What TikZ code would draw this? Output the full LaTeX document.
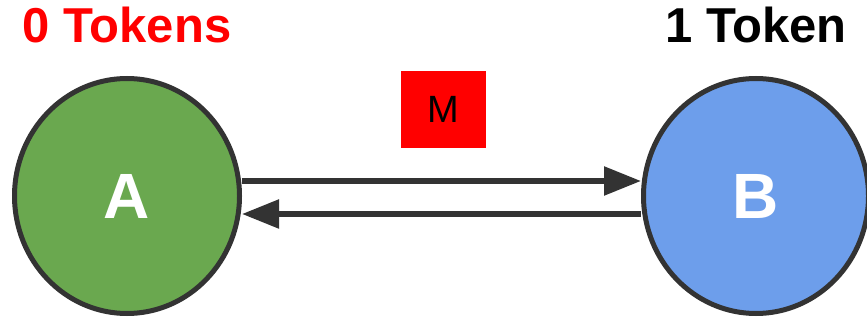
\documentclass[tikz,border=0pt]{standalone}
\usepackage{fontspec}
\setmainfont{Liberation Sans}
\usepackage{xcolor}
\usetikzlibrary{arrows.meta,positioning,shapes.geometric}
\definecolor{stroke}{HTML}{333333}
\definecolor{nodegreen}{HTML}{6AA84F}
\definecolor{nodeblue}{HTML}{6D9EEB}
\definecolor{msgred}{HTML}{FF0000}

\begin{document}
\begin{tikzpicture}[x=1pt, y=1pt,
  state/.style={ellipse, draw=stroke, line width=5pt, minimum width=225pt, minimum height=235pt, inner sep=0pt, text=white, font=\fontsize{64}{64}\selectfont\bfseries},
  title/.style={anchor=base, inner sep=0pt, font=\fontsize{49}{49}\selectfont\bfseries},
  msg/.style={fill=msgred, minimum width=85pt, minimum height=77pt, inner sep=0pt, font=\fontsize{38}{38}\selectfont},
  link/.style={draw=stroke, line width=5.5pt, -{Triangle[length=37pt,width=28pt]}}]
\useasboundingbox (0,0) rectangle (867,321);

% Processes
\node[state, fill=nodegreen] (A) at (127,125) {A};
\node[state, fill=nodeblue] (B) at (756,125) {B};

% Token counts
\node[title, text=msgred] (tokA) at ([yshift=33pt]A.north) {0 Tokens};
\node[title] (tokB) at ([yshift=33pt]B.north) {1 Token};

% Message in flight
\node[msg] (M) at (443.5,211.5) {M};

% Channels
\draw[link] ([yshift=15pt]A.east) -- ([yshift=15pt]B.west);
\draw[link] ([yshift=-18pt]B.west) -- ([yshift=-18pt]A.east);

\end{tikzpicture}
\end{document}
